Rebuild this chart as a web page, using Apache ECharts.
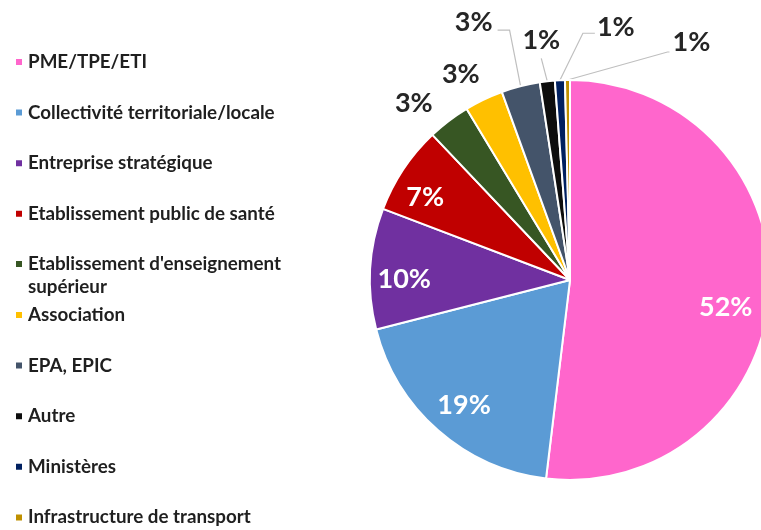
<!DOCTYPE html>
<html>
<head>
<meta charset="utf-8">
<style>
  html, body { margin: 0; padding: 0; background: #fff; }
  #chart { width: 761px; height: 530px; }
</style>
<script src="https://cdn.jsdelivr.net/npm/echarts@6/dist/echarts.min.js"></script>
</head>
<body>
<div id="chart"></div>
<script>
const categories = [
  'PME/TPE/ETI',
  'Collectivité territoriale/locale',
  'Entreprise stratégique',
  'Etablissement public de santé',
  "Etablissement d'enseignement supérieur",
  'Association',
  'EPA, EPIC',
  'Autre',
  'Ministères',
  'Infrastructure de transport'
]
const shares = [51.6, 19.0, 9.7, 7.1, 3.4, 3.1, 3.1, 1.2, 0.8, 0.4]
// étiquettes affichées (arrondies)
const pctLabels = ['52%', '19%', '10%', '7%', '3%', '3%', '3%', '1%', '1%', '1%']
const colors = ['#FF66CC', '#5B9BD5', '#7030A0', '#C00000', '#375623', '#FFC000', '#44546A', '#0D0D0D', '#002060', '#BF9000']

const CX = 570, CY = 280, R = 200
const FONT = 'Lato, sans-serif'

// petit décalage des étiquettes intérieures
const insideNudge = { 0: [0, 18], 1: [-3, 8], 2: [-10, 8], 3: [-15, 4] }
// réglage des étiquettes extérieures, relatif au bord de la part
const outsideCfg = {
  4: { off: [-35, -18] },
  5: { off: [-23, -25] },
  6: { bend: [-11, -56], tail: -12, align: 'right', lx: -5, ly: -8 },
  7: { bend: [-6, -23], tail: 0, align: 'center', lx: 0, ly: -18 },
  8: { bend: [23, -47], tail: 12, align: 'left', lx: 2, ly: -6 },
  9: { bend: [100, -28], tail: 2, align: 'left', lx: 3, ly: -10 }
}

const chart = echarts.init(document.getElementById('chart'))

const legendBase = {
  orient: 'vertical',
  left: 14,
  padding: 0,
  icon: 'rect',
  itemWidth: 8,
  itemHeight: 8,
  itemGap: 27.6,
  selectedMode: false,
  textStyle: {
    fontFamily: FONT,
    fontSize: 18.8,
    fontWeight: 'bold',
    color: '#1f1f1f',
    lineHeight: 23
  }
}

const seriesData = categories.map((name, i) => {
  const item = { name, value: shares[i], itemStyle: { color: colors[i] } }
  if (i < 4) {
    item.label = { position: 'inside', color: '#fff' }
    item.labelLine = { show: false }
  } else if (i < 6) {
    item.labelLine = { lineStyle: { opacity: 0 } }
  }
  return item
})

chart.setOption({
  animation: false,
  legend: [
    Object.assign({}, legendBase, { top: 50.5, data: categories.slice(0, 4) }),
    // entrée sur deux lignes : ligne vide en tête pour garder le carré
    // à hauteur de la première ligne
    Object.assign({}, legendBase, {
      top: 229.5,
      data: [categories[4]],
      formatter: name => '\n' + name.replace("d'enseignement ", "d'enseignement\n")
    }),
    Object.assign({}, legendBase, { top: 303.5, height: 230, data: categories.slice(5) })
  ],
  series: [
    {
      type: 'pie',
      center: [CX, CY],
      radius: R,
      startAngle: 90,
      clockwise: true,
      avoidLabelOverlap: false,
      itemStyle: { borderColor: '#fff', borderWidth: 2 },
      emphasis: { disabled: true },
      label: {
        show: true,
        position: 'outside',
        formatter: p => pctLabels[p.dataIndex],
        fontFamily: FONT,
        fontSize: 27,
        fontWeight: 'bold',
        color: '#262626'
      },
      labelLine: {
        show: true,
        length: 20,
        length2: 10,
        lineStyle: { color: '#bfbfbf', width: 1.2 }
      },
      labelLayout: params => {
        const i = params.dataIndex
        const rect = params.labelRect
        if (i < 4) {
          // étiquettes intérieures poussées vers l'extérieur (~78 % du rayon)
          const lx = rect.x + rect.width / 2, ly = rect.y + rect.height / 2
          const vx = lx - CX, vy = ly - CY
          const d = Math.sqrt(vx * vx + vy * vy)
          const k = (0.78 * R) / d - 1
          const n = insideNudge[i]
          return { dx: vx * k + n[0], dy: vy * k + n[1] }
        }
        const cfg = outsideCfg[i]
        const p0 = params.labelLinePoints[0]
        if (cfg.off) {
          return {
            x: p0[0] + cfg.off[0],
            y: p0[1] + cfg.off[1],
            align: 'center',
            verticalAlign: 'middle'
          }
        }
        const p1 = [p0[0] + cfg.bend[0], p0[1] + cfg.bend[1]]
        const p2 = [p1[0] + cfg.tail, p1[1]]
        return {
          x: p2[0] + cfg.lx,
          y: p2[1] + cfg.ly,
          align: cfg.align,
          verticalAlign: 'middle',
          labelLinePoints: [p0, p1, p2]
        }
      },
      data: seriesData
    }
  ]
})
</script>
</body>
</html>
